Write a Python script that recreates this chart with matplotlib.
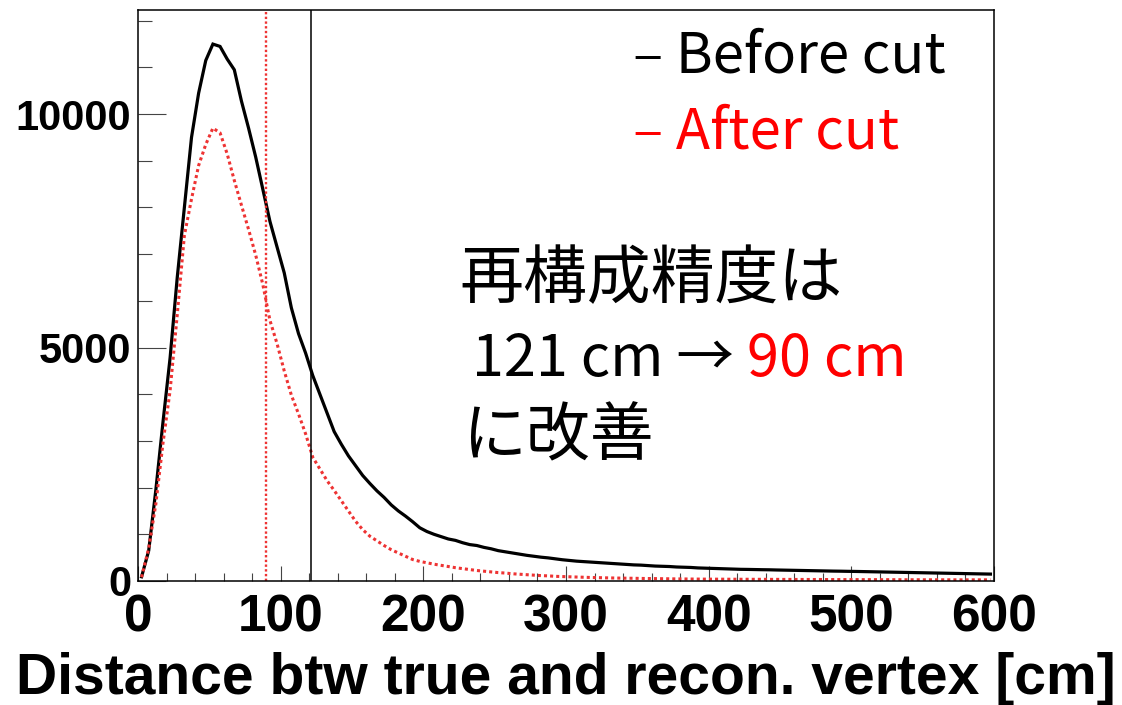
import numpy as np
import matplotlib
matplotlib.use('Agg')
import matplotlib.pyplot as plt
from matplotlib.ticker import MultipleLocator

# bin centres [cm] (5 cm bins from 0 to 600)
bin_centres = np.arange(2.5, 600, 5.0)

# entries per bin, all events
before_cut = [
    90, 650, 1950, 3400, 4780, 6500, 8000, 9500, 10450, 11150,
    11500, 11450, 11180, 10950, 10280, 9700, 9080, 8390, 7700, 7150,
    6600, 5850, 5300, 4880, 4400, 4000, 3600, 3200, 2930, 2680,
    2470, 2260, 2090, 1930, 1790, 1630, 1500, 1390, 1270, 1140,
    1060, 1000, 950, 900, 870, 820, 780, 760, 720, 690,
    650, 625, 600, 575, 550, 530, 510, 495, 475, 455,
    440, 425, 415, 405, 395, 385, 375, 365, 355, 345,
    340, 330, 320, 315, 310, 300, 295, 290, 280, 275,
    270, 265, 260, 255, 250, 248, 245, 242, 240, 236,
    233, 230, 227, 224, 221, 218, 215, 212, 210, 207,
    205, 202, 199, 196, 193, 190, 187, 184, 181, 178,
    175, 172, 169, 166, 163, 160, 157, 154, 151, 148,
]

# entries per bin, after the cut
after_cut = [
    80, 700, 1650, 2950, 4080, 5700, 7400, 8180, 8900, 9350,
    9700, 9600, 9150, 8580, 8050, 7530, 6980, 6350, 5580, 5080,
    4500, 3980, 3580, 3150, 2650, 2400, 2150, 1940, 1720, 1500,
    1280, 1100, 960, 860, 760, 670, 600, 530, 460, 420,
    390, 360, 335, 310, 285, 265, 245, 225, 210, 195,
    180, 170, 155, 145, 135, 125, 115, 110, 100, 95,
    90, 85, 80, 75, 72, 68, 65, 62, 60, 58,
    55, 53, 51, 49, 47, 45, 44, 42, 41, 40,
    39, 39, 38, 38, 37, 37, 36, 36, 35, 35,
    34, 34, 33, 33, 32, 32, 31, 31, 30, 30,
    30, 29, 29, 29, 28, 28, 28, 27, 27, 27,
    26, 26, 26, 26, 25, 25, 25, 25, 25, 25,
]

# resolution before / after the cut [cm]
res_before = 121
res_after = 90

RED_LINE = '#ee3333'
RED_TEXT = '#ff0000'

fig = plt.figure(figsize=(11.22, 7.05), dpi=100)
ax = fig.add_axes([138 / 1122, 124 / 705, 856 / 1122, 571 / 705])

ax.plot(bin_centres, before_cut, color='black', lw=2.3, solid_joinstyle='miter')
ax.plot(bin_centres, after_cut, color=RED_LINE, lw=2.2, linestyle=(0, (1, 1)))

ax.axvline(res_before, color='black', lw=1.1)
ax.axvline(res_after, color=RED_LINE, lw=1.7, linestyle=(0, (1, 1)))

ax.set_xlim(0, 600)
ax.set_ylim(0, 12230)

# ROOT-like axes
ax.xaxis.set_major_locator(MultipleLocator(100))
ax.xaxis.set_minor_locator(MultipleLocator(20))
ax.yaxis.set_major_locator(MultipleLocator(5000))
ax.yaxis.set_minor_locator(MultipleLocator(1000))
ax.tick_params(axis='both', which='both', direction='in', top=False, right=False,
               color='#444444', width=0.8)
ax.tick_params(axis='x', which='major', length=11, pad=9)
ax.tick_params(axis='x', which='minor', length=6)
ax.tick_params(axis='y', which='major', length=20, pad=5)
ax.tick_params(axis='y', which='minor', length=10)
for sp in ax.spines.values():
    sp.set_linewidth(1.1)

for lab in ax.get_xticklabels():
    lab.set_fontfamily('Liberation Sans')
    lab.set_fontweight('bold')
    lab.set_fontsize(37)
for lab in ax.get_yticklabels():
    lab.set_fontfamily('Liberation Sans')
    lab.set_fontweight('bold')
    lab.set_fontsize(30)

ax.set_xlabel('Distance btw true and recon. vertex [cm]', family='Liberation Sans',
              weight='bold', fontsize=41, labelpad=7)

jp = ['Noto Sans CJK JP', 'DejaVu Sans']
fig.text(633 / 1122, 1 - 57 / 705, '– Before cut', family=jp, fontsize=40.5,
         color='black', va='center', ha='left')
fig.text(633 / 1122, 1 - 133 / 705, '– After cut', family=jp, fontsize=40.5,
         color=RED_TEXT, va='center', ha='left')

fig.text(459 / 1122, 1 - 280 / 705, '再構成精度は', family=jp, fontsize=46,
         va='center', ha='left')
t1 = fig.text(459 / 1122, 1 - 360 / 705, f' {res_before} cm → ', family=jp,
              fontsize=41.5, va='center', ha='left')
ax.annotate(f'{res_after} cm', xy=(1, 0.5), xycoords=t1, va='center', ha='left',
            family=jp, fontsize=41.5, color=RED_TEXT)
fig.text(462 / 1122, 1 - 437 / 705, 'に改善', family=jp, fontsize=46,
         va='center', ha='left')

fig.savefig('out.png', dpi=100)
